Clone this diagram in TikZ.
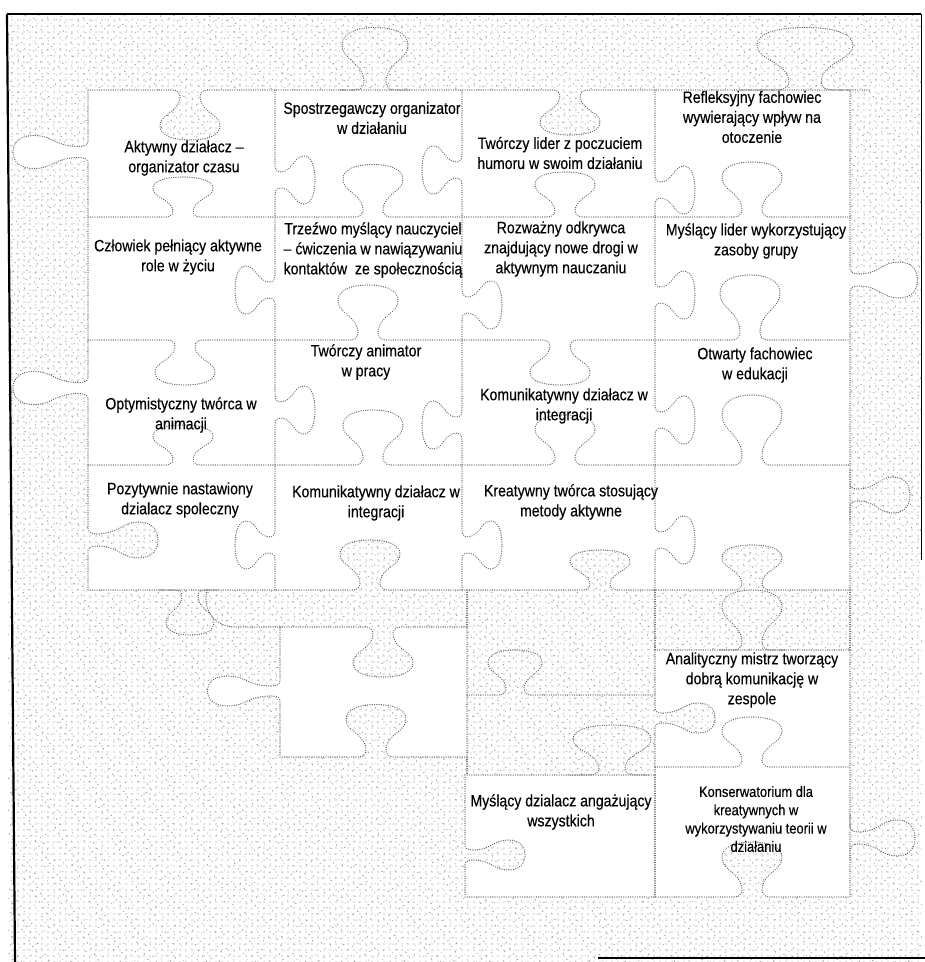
\documentclass[tikz,border=0pt]{standalone}
\usepackage{fontspec}
\setmainfont{Liberation Sans}[FakeStretch=0.86,FakeBold=0.3]
\usetikzlibrary{patterns.meta}

% horizontal jigsaw tab: #1 centre x, #2 edge y, #3 signed depth (+ = down), #4 width scale, #5 travel (+1 = rightwards)
\newcommand\tabH[5]{%
 -- ({#1-18*(#4)*(#5)},{#2})
 .. controls ({#1-10*(#4)*(#5)},{#2}) and ({#1-8*(#4)*(#5)},{#2+6*(#3)}) .. ({#1-12*(#4)*(#5)},{#2+14*(#3)})
 .. controls ({#1-18*(#4)*(#5)},{#2+24*(#3)}) and ({#1-30*(#4)*(#5)},{#2+26*(#3)}) .. ({#1-30*(#4)*(#5)},{#2+36*(#3)})
 .. controls ({#1-30*(#4)*(#5)},{#2+46*(#3)}) and ({#1-16*(#4)*(#5)},{#2+50*(#3)}) .. ({#1},{#2+50*(#3)})
 .. controls ({#1+16*(#4)*(#5)},{#2+50*(#3)}) and ({#1+30*(#4)*(#5)},{#2+46*(#3)}) .. ({#1+30*(#4)*(#5)},{#2+36*(#3)})
 .. controls ({#1+30*(#4)*(#5)},{#2+26*(#3)}) and ({#1+18*(#4)*(#5)},{#2+24*(#3)}) .. ({#1+12*(#4)*(#5)},{#2+14*(#3)})
 .. controls ({#1+8*(#4)*(#5)},{#2+6*(#3)}) and ({#1+10*(#4)*(#5)},{#2}) .. ({#1+18*(#4)*(#5)},{#2})}
% vertical jigsaw tab: #1 edge x, #2 centre y, #3 signed depth (+ = right), #4 width scale, #5 travel (+1 = downwards)
\newcommand\tabV[5]{%
 -- ({#1},{#2-18*(#4)*(#5)})
 .. controls ({#1},{#2-10*(#4)*(#5)}) and ({#1+6*(#3)},{#2-8*(#4)*(#5)}) .. ({#1+14*(#3)},{#2-12*(#4)*(#5)})
 .. controls ({#1+24*(#3)},{#2-18*(#4)*(#5)}) and ({#1+26*(#3)},{#2-30*(#4)*(#5)}) .. ({#1+36*(#3)},{#2-30*(#4)*(#5)})
 .. controls ({#1+46*(#3)},{#2-30*(#4)*(#5)}) and ({#1+50*(#3)},{#2-16*(#4)*(#5)}) .. ({#1+50*(#3)},{#2})
 .. controls ({#1+50*(#3)},{#2+16*(#4)*(#5)}) and ({#1+46*(#3)},{#2+30*(#4)*(#5)}) .. ({#1+36*(#3)},{#2+30*(#4)*(#5)})
 .. controls ({#1+26*(#3)},{#2+30*(#4)*(#5)}) and ({#1+24*(#3)},{#2+18*(#4)*(#5)}) .. ({#1+14*(#3)},{#2+12*(#4)*(#5)})
 .. controls ({#1+6*(#3)},{#2+8*(#4)*(#5)}) and ({#1},{#2+10*(#4)*(#5)}) .. ({#1},{#2+18*(#4)*(#5)})}

\tikzset{
  outl/.style={draw=black!60, line width=1.2pt, dash pattern=on 0.2pt off 2.1pt, line cap=round},
  whitepc/.style={fill=white, outl},
  lbl/.style={align=center, inner sep=0pt, text=black, font=\fontsize{16.4}{20}\selectfont},
  lblsmall/.style={align=center, inner sep=0pt, text=black, font=\fontsize{15}{18.3}\selectfont},
  frameline/.style={draw=black}
}

\begin{document}
\begin{tikzpicture}[x=1pt,y=-1pt]
\useasboundingbox (0,0) rectangle (925,962);

% stippled background
\fill[pattern={Dots[distance=6pt,radius=0.6pt]}, pattern color=black!50] (8,15) rectangle (922,962);
\fill[pattern={Dots[distance=6.5pt,radius=0.6pt,angle=33]}, pattern color=black!40] (8,15) rectangle (922,962);

% upper white block (4 x 4 pieces)
\path[whitepc] (88,90)
  \tabH{190}{90}{1}{1}{1}
  \tabH{570}{90}{0.9}{1}{1}
  -- (850,90)
  \tabV{850}{280}{1.35}{0.6}{1}
  -- (850,590)
  \tabH{752}{590}{-0.9}{1}{-1}
  \tabH{600}{590}{-0.8}{1}{-1}
  \tabH{370}{590}{-1}{1}{-1}
  -- (88,590)
  \tabV{88}{540}{1.4}{0.6}{-1}
  \tabV{88}{388}{-1.5}{0.55}{-1}
  \tabV{88}{152}{-1.5}{0.55}{-1}
  -- cycle;

% inner edges of the upper block
\draw[outl] (88,217) \tabH{183}{217}{-0.8}{1}{1} \tabH{373}{217}{-1.05}{1}{1} \tabH{565}{217}{-0.9}{1}{1} \tabH{752}{217}{-1.1}{1}{1} -- (850,217);
\draw[outl] (88,340) \tabH{185}{340}{0.9}{1}{1} \tabH{368}{340}{-1.1}{1}{1} \tabH{560}{340}{0.9}{1}{1} \tabH{750}{340}{-1.3}{1}{1} -- (850,340);
\draw[outl] (88,465) \tabH{183}{465}{-0.8}{1}{1} \tabH{373}{465}{-1.1}{1}{1} \tabH{565}{465}{-1}{1}{1} \tabH{752}{465}{-1.4}{1}{1} -- (850,465);
\draw[outl] (275,90) \tabV{275}{180}{0.8}{0.8}{1} \tabV{275}{290}{-0.8}{0.8}{1} \tabV{275}{410}{0.8}{0.8}{1} \tabV{275}{545}{-0.8}{0.8}{1} -- (275,590);
\draw[outl] (462,90) \tabV{462}{170}{-0.8}{0.8}{1} \tabV{462}{305}{0.8}{0.8}{1} \tabV{462}{425}{-0.8}{0.8}{1} \tabV{462}{545}{0.8}{0.8}{1} -- (462,590);
\draw[outl] (655,90) \tabV{655}{190}{0.8}{0.8}{1} \tabV{655}{295}{0.8}{0.8}{1} \tabV{655}{420}{0.8}{0.8}{1} \tabV{655}{540}{0.8}{0.8}{1} -- (655,590);

% lower white pieces
\path[whitepc] (280,627) \tabH{383}{627}{1}{1}{1} -- (467,627) -- (467,757)
  \tabH{376}{757}{-1.05}{1}{-1} -- (280,757) \tabV{280}{691}{-1.45}{0.5}{-1} -- cycle;
\path[whitepc] (655,650) -- (850,650) -- (850,897) \tabH{752}{897}{-1.1}{1}{-1} -- (465,897)
  \tabV{465}{855}{1.2}{0.5}{-1} -- (465,775) -- (655,775) \tabV{655}{718}{1.2}{0.5}{-1} -- cycle;
\draw[outl] (655,767) \tabH{752}{767}{-1}{1}{1} -- (850,767);
\draw[outl] (655,775) -- (655,897);

% outlines of stippled pieces
\draw[outl] (340,90) \tabH{375}{90}{-1.25}{1.1}{1} -- (410,90);
\draw[outl] (740,90) \tabH{805}{90}{-1.25}{1.6}{1} -- (870,90);
\draw[outl] (160,590) \tabH{190}{590}{0.9}{0.8}{1} -- (220,590);
\draw[outl] (720,650) \tabH{752}{650}{-1.2}{1}{1} -- (785,650);
\draw[outl] (570,775) \tabH{612}{775}{-1}{1.3}{1} -- (650,775);
\draw[outl] (850,815) \tabV{850}{838}{1.3}{0.6}{1} -- (850,860);
\draw[outl] (850,470) \tabV{850}{495}{1.2}{0.6}{1} -- (850,520);
\draw[outl] (207,590) .. controls (203,605) and (210,624) .. (232,627) -- (280,627);
\draw[outl] (467,590) -- (467,627);
\draw[outl] (467,757) -- (467,775);
\draw[outl] (467,695) \tabH{515}{695}{-0.9}{0.9}{1} -- (655,695);
\draw[outl] (655,590) -- (655,650);
\draw[outl] (850,590) -- (850,650);

% frame
\draw[frameline, line width=2.2pt] (7,14) -- (15,962);
\draw[frameline, line width=1.3pt] (7,14) -- (921,14);
\draw[frameline, line width=1pt] (921,14) -- (921,560);
\draw[frameline, line width=1.2pt] (598,958) -- (925,958);

% texts
\node[lbl] (t1) at (184,158) {Aktywny działacz –\\organizator czasu};
\node[lbl] (t2) at (372,118) {Spostrzegawczy organizator\\w działaniu};
\node[lbl] (t3) at (560,153) {Twórczy lider z poczuciem\\humoru w swoim działaniu};
\node[lbl] (t4) at (752,117) {Refleksyjny fachowiec\\wywierający wpływ na\\otoczenie};
\node[lbl] (t5) at (178,257) {Człowiek pełniący aktywne\\role w życiu};
\node[lbl] (t6) at (373,250) {Trzeźwo myślący nauczyciel\\– ćwiczenia w nawiązywaniu\\kontaktów~ ze społecznością};
\node[lbl] (t7) at (561,249) {Rozważny odkrywca\\znajdujący nowe drogi w\\aktywnym nauczaniu};
\node[lbl] (t8) at (756,241) {Myślący lider wykorzystujący\\zasoby grupy};
\node[lbl] (t9) at (366,362) {Twórczy animator\\w pracy};
\node[lbl] (t10) at (181,415) {Optymistyczny twórca w\\animacji};
\node[lbl] (t11) at (564,406) {Komunikatywny działacz w\\integracji};
\node[lbl] (t12) at (755,365) {Otwarty fachowiec\\w edukacji};
\node[lbl] (t13) at (180,500) {Pozytywnie nastawiony\\dzialacz spoleczny};
\node[lbl] (t14) at (376,503) {Komunikatywny działacz w\\integracji};
\node[lbl] (t15) at (571,502) {Kreatywny twórca stosujący\\metody aktywne};
\node[lbl] (t16) at (752,680) {Analityczny mistrz tworzący\\dobrą komunikację w\\zespole};
\node[lblsmall] (t17) at (756,819) {Konserwatorium dla\\kreatywnych w\\wykorzystywaniu teorii w\\działaniu};
\node[lbl] (t18) at (561,812) {Myślący dzialacz angażujący\\wszystkich};
\end{tikzpicture}
\end{document}
